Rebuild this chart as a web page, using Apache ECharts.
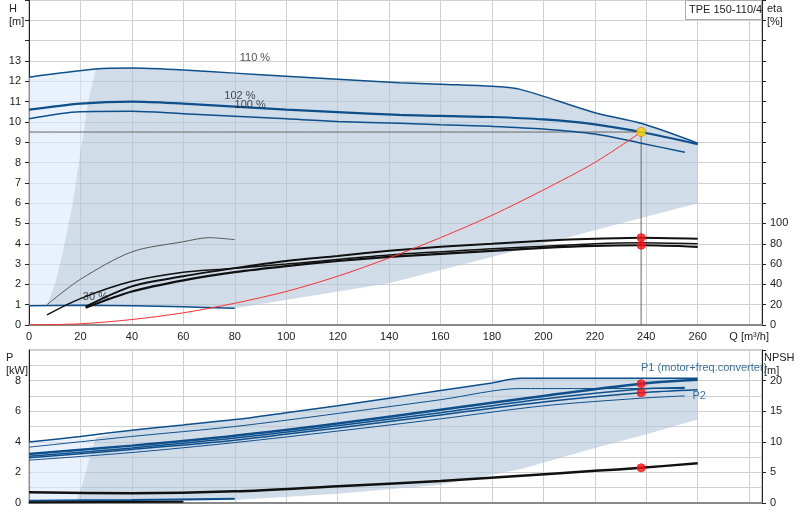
<!DOCTYPE html>
<html><head><meta charset="utf-8">
<script src="https://cdn.jsdelivr.net/npm/echarts@6/dist/echarts.min.js"></script>
<style>html,body{margin:0;padding:0;background:#fff}#c{width:800px;height:520px}</style>
</head><body><div id="c"></div>
<script>
// ---- data (Q in m³/h) ----
const qTicks = [0,20,40,60,80,100,120,140,160,180,200,220,240,260];
const h110 = [[0,12.2],[26,12.6],[40,12.65],[60,12.55],[80,12.4],[100,12.25],[120,12.1],[144,11.93],[160,11.85],[180,11.75],[191,11.6],[220,10.45],[238,9.93],[260,8.95]];
const h102 = [[0,10.6],[20,10.9],[40,11.0],[60,10.9],[80,10.75],[100,10.6],[120,10.48],[144,10.34],[160,10.3],[180,10.24],[200,10.12],[220,9.88],[238,9.5],[260,8.9]];
const h100 = [[0,10.15],[20,10.5],[40,10.52],[60,10.4],[80,10.28],[100,10.15],[120,10.02],[144,9.93],[160,9.86],[180,9.78],[200,9.65],[220,9.4],[238,8.95],[255,8.5]];
const h30 = [[0,0.95],[20,0.97],[40,0.95],[60,0.9],[80,0.82]];
const hSystem = [[0,0],[20,0.06],[40,0.27],[60,0.6],[80,1.07],[100,1.65],[120,2.4],[140,3.3],[160,4.3],[180,5.4],[200,6.65],[220,8.0],[238,9.5]];
const hOp = [[238,9.5]];
const hShadeDark = [[7,1],[10,2],[13,3.5],[17,6],[20,8.5],[23,11],[26,12.6],[40,12.65],[60,12.55],[80,12.4],[100,12.25],[120,12.1],[144,11.93],[160,11.85],[180,11.75],[191,11.6],[220,10.45],[238,9.93],[260,8.95],[260,6.0],[200,4.0],[140,2.05],[80,0.82],[40,0.95],[20,0.97]];
const hShadeLight = [[0,0.95],[0,12.2],[26,12.6],[23,11],[20,8.5],[17,6],[13,3.5],[10,2],[7,1]];
const etaA = [[22,18],[40,38],[60,48],[80,56],[100,63],[120,68],[140,73],[160,77],[180,80],[200,83],[220,85],[238,86],[260,85]];
const etaB = [[22,17],[40,33],[60,44],[80,52],[100,58],[120,63],[140,67],[160,70],[180,73],[200,76],[220,78],[238,78.5],[260,77]];
const etaC = [[7,10],[20,26],[40,43],[60,52],[75,55],[100,60],[140,69],[180,75],[220,80],[238,81],[260,80]];
const etaD = [[7,20],[20,45],[40,72],[60,82],[70,86],[80,84]];
const etaOp = [[238,86],[238,78.5]];
const pTop = [[0,3.98],[20,4.35],[40,4.75],[60,5.1],[80,5.45],[100,5.9],[120,6.35],[140,6.85],[160,7.35],[180,7.85],[191,8.15],[260,8.15]];
const pTop2 = [[0,3.65],[40,4.35],[80,5.0],[120,5.85],[160,6.75],[191,7.48],[255,7.48]];
const p1 = [[0,3.2],[40,3.75],[80,4.4],[120,5.2],[160,6.1],[200,7.0],[238,7.8],[260,8.05]];
const pMid = [[0,3.05],[40,3.6],[80,4.25],[120,5.05],[160,5.9],[200,6.8],[238,7.45],[255,7.55]];
const p2 = [[0,2.95],[40,3.5],[80,4.1],[120,4.9],[160,5.75],[200,6.6],[238,7.2],[260,7.4]];
const pLow = [[0,2.8],[40,3.3],[80,3.95],[120,4.7],[160,5.5],[200,6.35],[238,6.85],[255,7.0]];
const pSmall = [[0,0.15],[40,0.2],[80,0.28]];
const pSmallB = [[0,0.05],[60,0.08]];
const pOp = [[238,7.8],[238,7.2]];
const pShadeDark = [[18,0],[20,0.8],[22,2],[24,3.2],[26,4.3],[40,4.75],[60,5.1],[80,5.45],[100,5.9],[120,6.35],[140,6.85],[160,7.35],[180,7.85],[191,8.15],[260,8.15],[260,5.45],[238,4.4],[220,3.6],[191,2.2],[160,1.2],[120,0.6],[80,0.2],[40,0.05]];
const pShadeLight = [[0,0],[0,3.98],[26,4.3],[24,3.2],[22,2],[20,0.8],[18,0]];
const npsh = [[0,1.75],[40,1.6],[80,1.9],[120,2.75],[160,3.6],[190,4.4],[220,5.25],[238,5.75],[260,6.5]];
const npshOp = [[238,5.75]];

const BLUE = '#0d4f8b';
const chart = echarts.init(document.getElementById('c'));
function poly(pts, color, xi, yi){
  return {type:'custom', xAxisIndex:xi, yAxisIndex:yi, silent:true, z:1, data:[pts[0]],
    renderItem:(p,api)=>({type:'polygon', shape:{points:pts.map(d=>api.coord(d))}, style:{fill:color}})};
}
function ln(data, color, w, xi, yi, z){
  return {type:'line', xAxisIndex:xi, yAxisIndex:yi, data, symbol:'none', smooth:0.3, silent:true, z:z||3,
    lineStyle:{color, width:w}};
}
function txt(x,y,s,xi,yi,color,pos){
  return {type:'scatter', xAxisIndex:xi, yAxisIndex:yi, data:[[x,y]], symbolSize:0, silent:true, z:6,
    label:{show:true, position:pos||'right', formatter:s, color:color||'#222', fontSize:11, fontFamily:'Arial, Liberation Sans'}};
}
function dots(data,color,xi,yi,size){
  return {type:'scatter', xAxisIndex:xi, yAxisIndex:yi, data, symbolSize:size||8, z:7, silent:true,
    itemStyle:{color, borderColor:color==='#ffd700'?'#e08000':color, borderWidth:1}};
}
const axLab = {color:'#222', fontSize:11, fontFamily:'Arial, Liberation Sans'};
const split = {show:true, lineStyle:{color:'#d0d0d0'}};
chart.setOption({
  animation:false,
  grid:[
    {left:29, right:38, top:0, height:325, show:true, borderColor:'#999', borderWidth:1},
    {left:29, right:38, top:350, height:153, show:true, borderColor:'#999', borderWidth:1}
  ],
  xAxis:[
    {gridIndex:0, type:'value', min:0, max:285, interval:20, splitLine:split,
     axisLine:{lineStyle:{color:'#888', width:2}}, axisTick:{show:false},
     axisLabel:Object.assign({}, axLab, {formatter:v=>v<=260?String(v):(v===280?'Q [m³/h]':''), margin:6})},
    {gridIndex:1, type:'value', min:0, max:285, interval:20, splitLine:split,
     axisLine:{lineStyle:{color:'#888', width:2}}, axisTick:{show:false}, axisLabel:{show:false}}
  ],
  yAxis:[
    {gridIndex:0, type:'value', min:0, max:16, interval:1, splitLine:split,
     axisLine:{show:true, lineStyle:{color:'#222'}}, axisTick:{show:true, length:4, lineStyle:{color:'#222'}},
     axisLabel:Object.assign({}, axLab, {formatter:v=>v<=13?String(v):''})},
    {gridIndex:0, type:'value', min:0, max:320, interval:20, position:'right', splitLine:{show:false},
     axisLine:{show:true, lineStyle:{color:'#222'}}, axisTick:{show:true, length:4, inside:false, lineStyle:{color:'#222'}},
     axisLabel:Object.assign({}, axLab, {formatter:v=>v<=100?String(v):''})},
    {gridIndex:1, type:'value', min:0, max:10, interval:1, splitLine:split,
     axisLine:{show:true, lineStyle:{color:'#222'}}, axisTick:{show:false},
     axisLabel:Object.assign({}, axLab, {formatter:v=>(v%2===0&&v<=8)?String(v):''})},
    {gridIndex:1, type:'value', min:0, max:25, interval:5, position:'right', splitLine:{show:false},
     axisLine:{show:true, lineStyle:{color:'#222'}}, axisTick:{show:true, length:4, lineStyle:{color:'#222'}},
     axisLabel:Object.assign({}, axLab, {formatter:v=>v<=20?String(v):''})}
  ],
  graphic:[
    {type:'text', left:9, top:2, style:{text:'H\n[m]', fill:'#222', font:'11px Arial', align:'center', lineHeight:13}},
    {type:'text', left:767, top:2, style:{text:'eta\n[%]', fill:'#222', font:'11px Arial', lineHeight:13}},
    {type:'text', left:6, top:351, style:{text:'P\n[kW]', fill:'#222', font:'11px Arial', lineHeight:13}},
    {type:'text', left:764, top:351, style:{text:'NPSH\n[m]', fill:'#222', font:'11px Arial', lineHeight:13}},
    {type:'rect', left:685, top:0, shape:{width:76, height:19}, style:{fill:'#fff', stroke:'#aaa', lineWidth:1}, z:10},
    {type:'text', left:689, top:4, style:{text:'TPE 150-110/4', fill:'#222', font:'11px Arial'}, z:11}
  ],
  series:[
    poly(hShadeLight,'rgba(215,232,250,0.55)',0,0),
    poly(hShadeDark,'rgba(176,196,216,0.6)',0,0),
    poly(pShadeLight,'rgba(215,232,250,0.55)',1,2),
    poly(pShadeDark,'rgba(176,196,216,0.6)',1,2),
    ln(h110,BLUE,1.5,0,0), ln(h102,BLUE,2.2,0,0), ln(h100,BLUE,1.5,0,0), ln(h30,BLUE,1.5,0,0),
    ln([[0,9.5],[238,9.5]],'#666',1,0,0,2), ln([[238,9.5],[238,0]],'#666',1,0,0,2),
    ln(hSystem,'#ff3030',1,0,0,4),
    ln(etaA,'#111',2,0,1), ln(etaB,'#111',2.2,0,1), ln(etaC,'#111',1.5,0,1), ln(etaD,'#555',1,0,1),
    dots(etaOp,'#ff1010',0,1,8), dots(hOp,'#ffd700',0,0,9),
    txt(80,13.15,'110 %',0,0), txt(74,11.3,'102 %',0,0), txt(78,10.85,'100 %',0,0), txt(19,1.4,'30 %',0,0),
    ln(pTop,BLUE,1.5,1,2), ln(pTop2,BLUE,1,1,2), ln(p1,BLUE,2.5,1,2), ln(pMid,BLUE,1.5,1,2), ln(p2,BLUE,1.5,1,2), ln(pLow,BLUE,1,1,2),
    ln(pSmall,BLUE,2,1,2), ln(pSmallB,'#111',2,1,2),
    ln(npsh,'#111',2.5,1,3),
    dots(pOp,'#ff1010',1,2,8), dots(npshOp,'#ff1010',1,3,8),
    txt(236,8.8,'P1 (motor+freq.converter)',1,2,BLUE), txt(256,7.0,'P2',1,2,BLUE)
  ]
});
</script></body></html>
